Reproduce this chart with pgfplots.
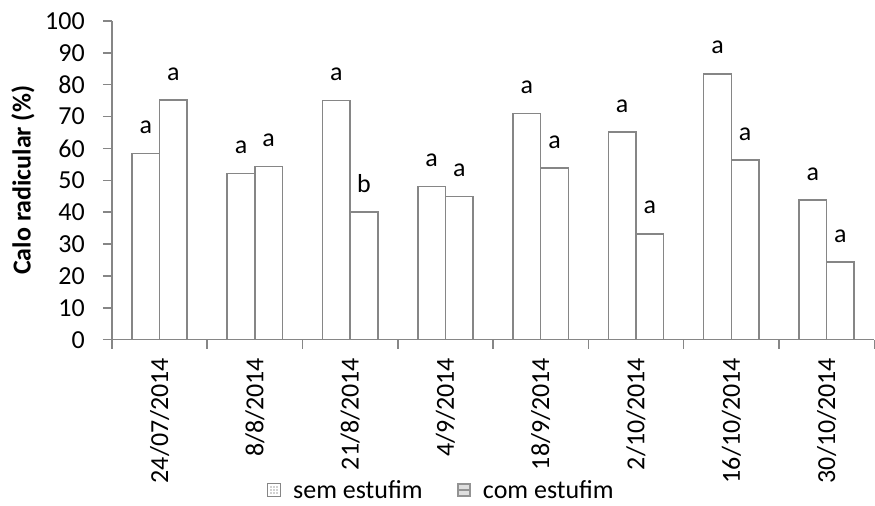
\documentclass[border=0pt]{standalone}
\usepackage{pgfplots}
\pgfplotsset{compat=1.18}
\usepackage{fontspec}
\setmainfont{Carlito}
\definecolor{axgray}{RGB}{134,134,134}
\begin{document}
\begin{tikzpicture}
\path (-112pt,-166pt) rectangle (763pt,340pt);
\begin{axis}[
  name=ax, scale only axis, width=763pt, height=319pt,
  ymin=0, ymax=100, ytick={0,10,...,100},
  xmin=-0.5, xmax=7.5,
  xtick={-0.5,0.5,...,7.5},
  x tick label as interval,
  xticklabels={24/07/2014,8/8/2014,21/8/2014,4/9/2014,18/9/2014,2/10/2014,16/10/2014,30/10/2014},
  xticklabel style={yshift=-9pt, rotate=90, anchor=east, inner sep=0pt},
  yticklabel style={xshift=-18pt, anchor=east, inner sep=0pt},
  axis x line*=bottom, axis y line*=left,
  axis line style={axgray, line width=1.5pt, -},
  tick align=outside, major tick length=9pt,
  tick style={axgray, line width=1.5pt},
  ybar=0pt, bar width=0.29,
  font=\fontsize{26}{31}\selectfont,
  /pgf/number format/assume math mode=true,
  ylabel={\bfseries Calo radicular (\%)},
  every axis y label/.style={at={(axis description cs:-0.1166,0.5)}, rotate=90, anchor=center},
  nodes near coords, point meta=explicit symbolic,
  every node near coord/.append style={font=\fontsize{26}{31}\selectfont, anchor=south, inner sep=0pt, yshift=19pt, black},
  clip=false,
  legend style={draw=none, fill=none, at={(axis description cs:0.431,-0.472)}, anchor=center, legend columns=2,
    font=\fontsize{26}{31}\selectfont, nodes={inner sep=0pt},
    /tikz/every odd column/.append style={column sep=12pt},
    /tikz/every even column/.append style={column sep=34pt}},
]
\addplot[draw=axgray, fill=white, line width=1.5pt,
  legend image code/.code={\draw[axgray, fill=white, line width=1pt] (0pt,-6.5pt) rectangle (13pt,6.5pt);
     \foreach \i in {3.5,6.5,9.5} {\foreach \j in {-3,0,3} {\fill[gray!35] (\i pt-0.5pt,\j pt-0.5pt) rectangle (\i pt+0.5pt,\j pt+0.5pt);}}}]
  coordinates {(0,58.5) [a] (1,52.2) [a] (2,75.1) [a] (3,48) [a] (4,71) [a] (5,65.1) [a] (6,83.4) [a] (7,43.8) [a]};
\addlegendentry{sem estufim}
\addplot[draw=axgray, fill=white, line width=1.5pt,
  legend image code/.code={\fill[gray!85] (0pt,-6.5pt) rectangle (13pt,6.5pt);
     \fill[gray!25] (2.5pt,-4pt) rectangle (5.5pt,-1.5pt); \fill[gray!25] (7.5pt,-4pt) rectangle (10.5pt,-1.5pt);
     \fill[gray!25] (2.5pt,1.5pt) rectangle (5.5pt,4pt); \fill[gray!25] (7.5pt,1.5pt) rectangle (10.5pt,4pt);}]
  coordinates {(0,75.2) [a] (1,54.3) [a] (2,40) [b] (3,45) [a] (4,53.8) [a] (5,33.2) [a] (6,56.4) [a] (7,24.4) [a]};
\addlegendentry{com estufim}
\end{axis}
\end{tikzpicture}
\end{document}
